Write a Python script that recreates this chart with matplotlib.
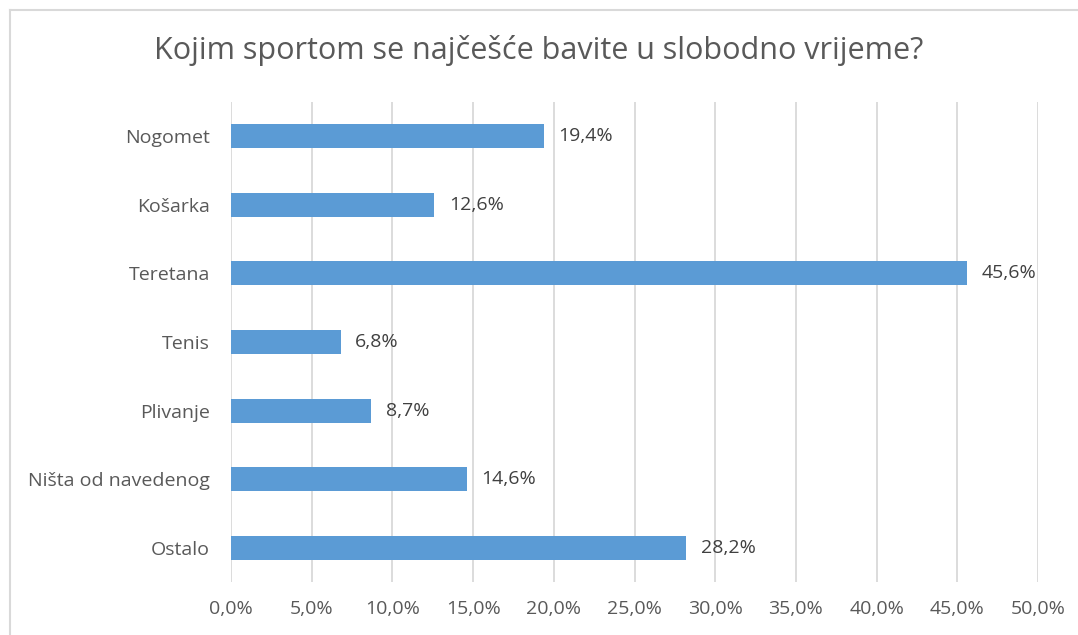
import matplotlib.pyplot as plt
from matplotlib.lines import Line2D
from matplotlib.ticker import FuncFormatter

# podaci s grafa
kategorije = ["Nogomet", "Košarka", "Teretana", "Tenis", "Plivanje", "Ništa od navedenog", "Ostalo"]
postoci = [19.4, 12.6, 45.6, 6.8, 8.7, 14.6, 28.2]
x_ticks = [0, 5, 10, 15, 20, 25, 30, 35, 40, 45, 50]
naslov = "Kojim sportom se najčešće bavite u slobodno vrijeme?"

plt.rcParams['font.family'] = ['Open Sans', 'DejaVu Sans']
siva = '#595959'

fig = plt.figure(figsize=(10.78, 6.35), dpi=100)
ax = fig.add_axes([231/1078, 1-582/635, (1038-231)/1078, (582-102)/635])

y = list(range(len(kategorije)))
ax.barh(y, postoci, height=0.35, color='#5b9bd5', zorder=3)

for i, v in enumerate(postoci):
    ax.text(v + 0.9, i, ("%.1f%%" % v).replace('.', ','), va='center', ha='left',
            fontsize=14, color='#404040')

ax.set_xlim(0, 50)
ax.set_ylim(len(kategorije) - 0.5, -0.5)
ax.set_yticks(y)
ax.set_yticklabels(kategorije)
ax.set_xticks(x_ticks)
ax.xaxis.set_major_formatter(FuncFormatter(lambda v, p: ("%.1f%%" % v).replace('.', ',')))
ax.tick_params(axis='both', length=0, labelsize=14, colors=siva)
ax.tick_params(axis='x', pad=13)
ax.tick_params(axis='y', pad=15)

ax.grid(axis='x', color='#d9d9d9', linewidth=1.3, zorder=0)
for s in ax.spines.values():
    s.set_visible(False)

fig.text(0.5, 1-51/635, naslov, ha='center', va='center', fontsize=22, color=siva)

# okvir grafikona
W, H = 1078, 635
fig.add_artist(Line2D([10/W, 1], [1-10/H, 1-10/H], color='#d9d9d9', linewidth=1.5, transform=fig.transFigure))
fig.add_artist(Line2D([10/W, 10/W], [0, 1-10/H], color='#d9d9d9', linewidth=1.5, transform=fig.transFigure))

fig.savefig("out.png", dpi=100)
